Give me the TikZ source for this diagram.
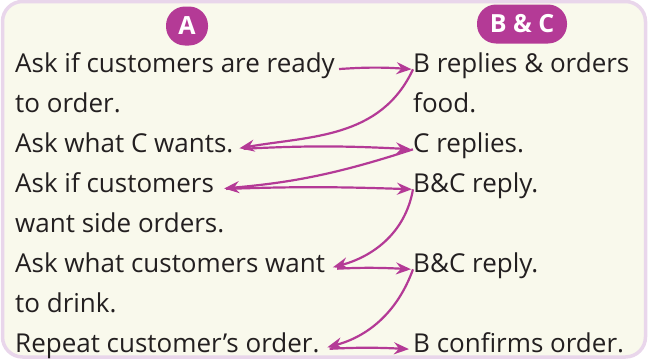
\documentclass[tikz,border=0pt]{standalone}
\usepackage{fontspec}
\setmainfont{Open Sans}
\usepackage{tikz}
\usetikzlibrary{arrows.meta,positioning}
\definecolor{talkcolor}{RGB}{180,58,150}
\definecolor{cardcolor}{RGB}{249,249,236}
\definecolor{rimcolor}{RGB}{233,214,235}
\definecolor{inkcolor}{RGB}{35,31,32}
\tikzset{
  say line/.style={
    anchor=base west,
    inner sep=0pt,
    text=inkcolor,
    font=\fontsize{26}{30}\selectfont
  },
  speaker/.style={
    fill=talkcolor,
    text=white,
    rounded corners=19pt,
    minimum height=39pt,
    inner xsep=12pt,
    font=\fontsize{25}{30}\selectfont\bfseries
  },
  talk/.style={
    draw=talkcolor,
    line width=2.2pt,
    -{Stealth[length=15pt,width=12pt,inset=5pt]}
  }
}

\begin{document}
\begin{tikzpicture}[x=1pt,y=1pt]
  \useasboundingbox (0,0) rectangle (648,360);
  % Card
  \draw[draw=rimcolor, fill=cardcolor, line width=3.5pt, rounded corners=20pt]
    (2.5,3) rectangle (645.5,358.5);

  % Speakers
  \node[speaker, minimum width=42pt] (spkA) at (187,334) {A};
  \node[speaker, minimum width=90pt] (spkBC) at (522,336) {B \& C};

  % Column A
  \node[say line] (a1)  at (15,288) {Ask if customers are ready};
  \node[say line] (a1b) at (15,248) {to order.};
  \node[say line] (a2)  at (15,208) {Ask what C wants.};
  \node[say line] (a3)  at (15,168) {Ask if customers};
  \node[say line] (a3b) at (15,128) {want side orders.};
  \node[say line] (a4)  at (15,88)  {Ask what customers want};
  \node[say line] (a4b) at (15,48)  {to drink.};
  \node[say line] (a5)  at (15,8)   {Repeat customer’s order.};

  % Column B & C
  \node[say line] (b1)  at (413,288) {B replies \& orders};
  \node[say line] (b1b) at (413,248) {food.};
  \node[say line] (b2)  at (413,208) {C replies.};
  \node[say line] (b3)  at (413,168) {B\&C reply.};
  \node[say line] (b4)  at (413,88)  {B\&C reply.};
  \node[say line] (b5)  at (413,8)   {B confirms order.};

  % Turns
  \draw[talk, shorten <=4pt, shorten >=1.5pt] (a1.mid east) to[bend left=4] (b1.mid west);
  \draw[talk, shorten >=6pt] (b1.mid west) to[out=245, in=10] (a2.mid east);
  \draw[talk, shorten <=10pt, shorten >=2pt] (a2.mid east) to[bend left=3] (b2.mid west);
  \draw[talk, shorten >=10pt] (b2.mid west) to[out=198, in=5] (a3.mid east);
  \draw[talk, shorten <=12pt, shorten >=1pt] (a3.mid east) to[bend left=2] (b3.mid west);
  \draw[talk, shorten >=8pt] (b3.mid west) to[out=260, in=15] (a4.mid east);
  \draw[talk, shorten <=12pt, shorten >=2pt] (a4.mid east) to[bend left=3] (b4.mid west);
  \draw[talk, shorten >=8pt] (b4.mid west) to[out=250, in=15] (a5.mid east);
  \draw[talk, shorten <=10pt, shorten >=4pt] (a5.mid east) to[bend left=3] (b5.mid west);
\end{tikzpicture}
\end{document}
